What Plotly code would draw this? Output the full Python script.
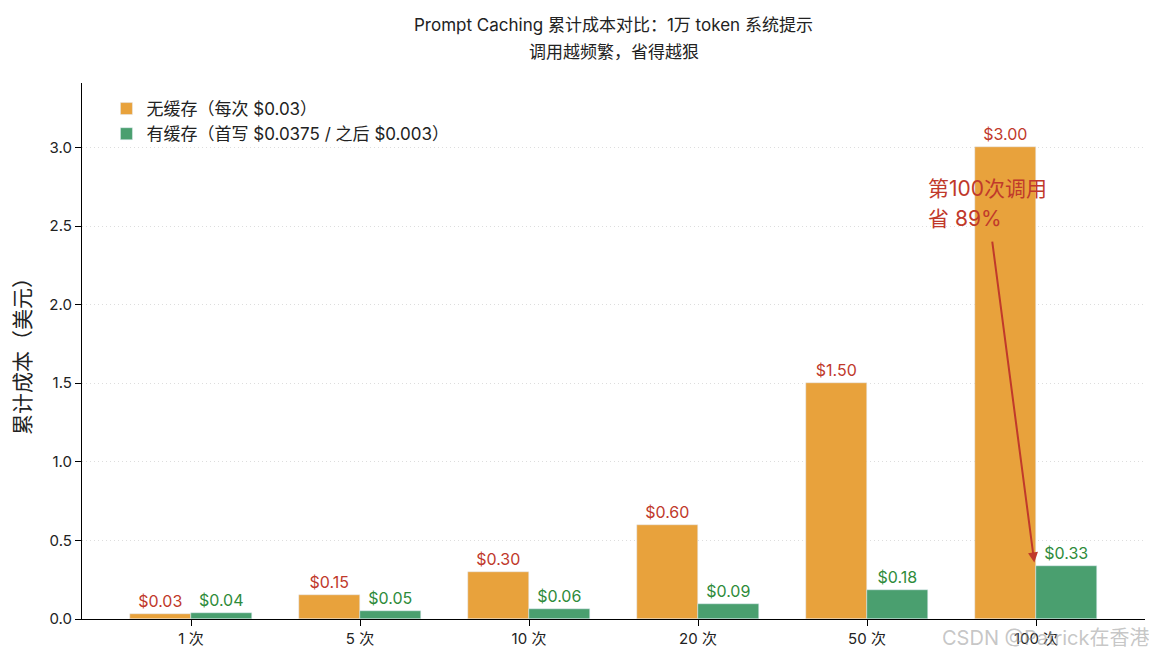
import plotly.graph_objects as go

calls = ["1 次", "5 次", "10 次", "20 次", "50 次", "100 次"]
no_cache = [0.03, 0.15, 0.30, 0.60, 1.50, 3.00]
with_cache = [0.0375, 0.0495, 0.0645, 0.0945, 0.1845, 0.3345]
y_ticks = [0.0, 0.5, 1.0, 1.5, 2.0, 2.5, 3.0]

orange = "#E8A23C"
green = "#4A9F6F"
red = "#C0392B"
dgreen = "#2E8B3A"
font = "Inter, Noto Sans CJK SC, sans-serif"

xs = list(range(len(calls)))
w = 0.36

fig = go.Figure()
fig.add_trace(go.Bar(
    x=[i - w / 2 for i in xs], y=no_cache, width=w,
    name="无缓存（每次 $0.03）", marker_color=orange,
    text=[f"${v:.2f}" for v in no_cache], textposition="outside",
    textfont=dict(color=red, size=16), cliponaxis=False,
))
fig.add_trace(go.Bar(
    x=[i + w / 2 for i in xs], y=with_cache, width=w,
    name="有缓存（首写 $0.0375 / 之后 $0.003）", marker_color=green,
    text=[f"${v:.2f}" for v in with_cache], textposition="outside",
    textfont=dict(color=dgreen, size=16), cliponaxis=False,
))

# two-line title
fig.add_annotation(
    x=0.5, y=1.108, xref="paper", yref="paper", showarrow=False,
    text="Prompt Caching 累计成本对比：1万 token 系统提示",
    font=dict(size=17, color="#222"), yanchor="middle",
)
fig.add_annotation(
    x=0.5, y=1.058, xref="paper", yref="paper", showarrow=False,
    text="调用越频繁，省得越狠",
    font=dict(size=17, color="#222"), yanchor="middle",
)

# arrow pointing at the cached 100-call bar
fig.add_annotation(
    x=4.99, y=0.36, ax=4.74, ay=2.41, xref="x", yref="y", axref="x", ayref="y",
    text="", showarrow=True, arrowhead=2, arrowsize=1, arrowwidth=2, arrowcolor=red,
)
fig.add_annotation(
    x=4.35, y=2.74, xref="x", yref="y", xanchor="left", yanchor="middle",
    text="第100次调用", showarrow=False, font=dict(color=red, size=21),
)
fig.add_annotation(
    x=4.35, y=2.55, xref="x", yref="y", xanchor="left", yanchor="middle",
    text="省 89%", showarrow=False, font=dict(color=red, size=21),
)
fig.add_annotation(
    x=1.007, y=-0.035, xref="paper", yref="paper", xanchor="right", yanchor="middle",
    text="CSDN @Patrick在香港", showarrow=False,
    font=dict(color="rgba(150,150,150,0.55)", size=20),
)

fig.update_layout(
    width=1149, height=655,
    margin=dict(l=74, r=12, t=75, b=44),
    plot_bgcolor="white", paper_bgcolor="white",
    font=dict(family=font, size=15, color="#222"),
    barmode="overlay", bargap=0,
    showlegend=True,
    legend=dict(
        x=0.023, y=0.985, xanchor="left", yanchor="top",
        bgcolor="rgba(255,255,255,0)", font=dict(size=17),
    ),
    xaxis=dict(
        tickmode="array", tickvals=xs, ticktext=calls,
        range=[-0.645, 5.645], showgrid=False, zeroline=False,
        showline=True, linecolor="black", linewidth=1.2,
        ticks="outside", ticklen=6, tickcolor="black",
        tickfont=dict(size=15),
    ),
    yaxis=dict(
        tickmode="array", tickvals=y_ticks, ticktext=[f"{v:.1f}" for v in y_ticks],
        range=[0, 3.41], showgrid=True, gridcolor="#dddddd", griddash="1px,3px", gridwidth=1,
        zeroline=False, showline=True, linecolor="black", linewidth=1.2,
        ticks="outside", ticklen=6, tickcolor="black",
        tickfont=dict(size=15),
        title=dict(text="累计成本（美元）", font=dict(size=21), standoff=12),
    ),
)

fig.write_html("out.html")
